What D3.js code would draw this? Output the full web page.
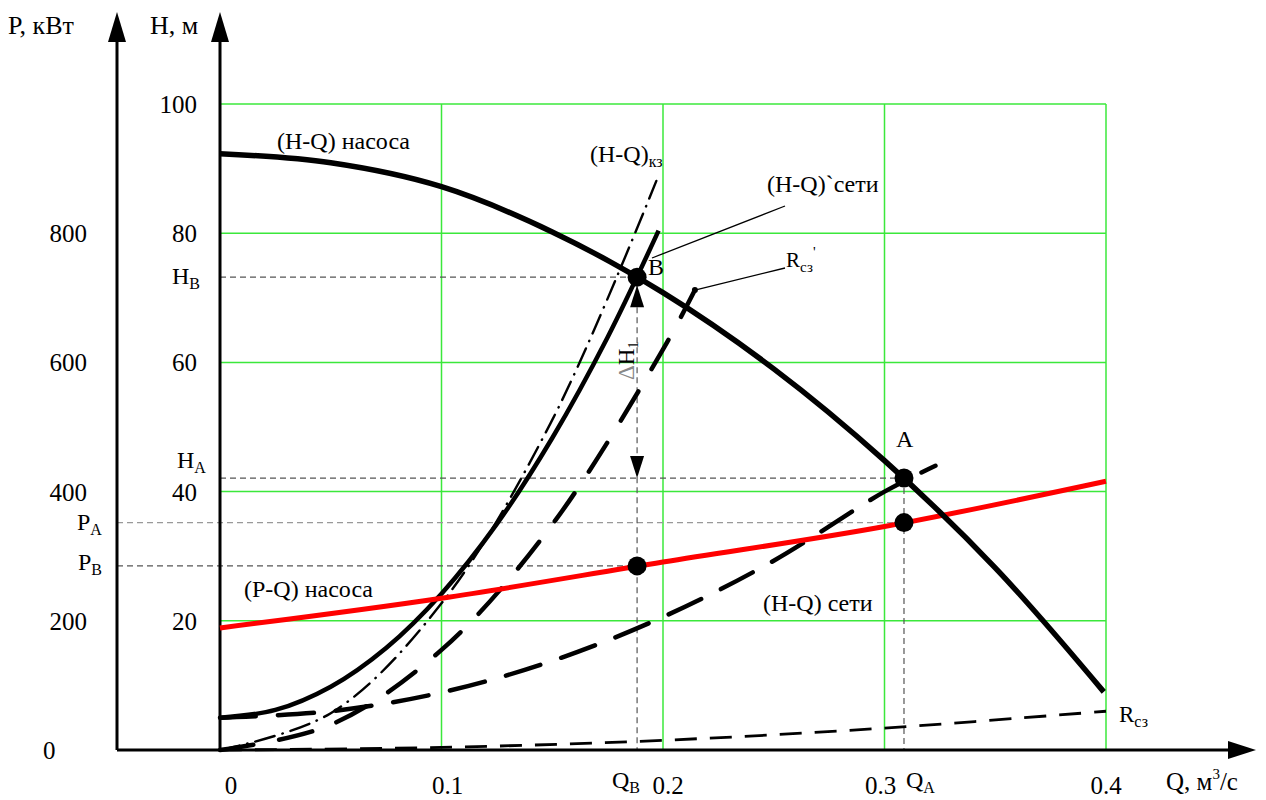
<!DOCTYPE html>
<html>
<head>
<meta charset="utf-8">
<script src="https://cdn.jsdelivr.net/npm/d3@7/dist/d3.min.js"></script>
<style>
  html, body { margin: 0; padding: 0; background: #fff; }
  svg { display: block; }
  text { font-family: "Liberation Serif", "Times New Roman", serif; fill: #000; }
</style>
</head>
<body>
<svg id="chart" width="1266" height="800"></svg>
<script>
// ---- data ----
// pump head curve (H-Q) насоса
const pumpQ = [0, 0.05, 0.1, 0.15, 0.2, 0.25, 0.3, 0.35, 0.399];
const pumpH = [92.3, 90.9, 87.2, 80.2, 70.8, 59.0, 44.8, 28.2, 9.0];
// pump power curve (P-Q) насоса, кВт
const powerQ = [0, 0.1, 0.2, 0.3, 0.4];
const powerP = [189, 235, 291, 346, 416];
// network curve (H-Q) сети
const netQ = [0, 0.05, 0.1, 0.15, 0.2, 0.25, 0.3, 0.323];
const netH = [5.0, 6.0, 8.9, 13.8, 20.6, 29.3, 40.0, 44.0];
// throttled network curve (H-Q)`сети
const net2Q = [0, 0.025, 0.05, 0.075, 0.1, 0.125, 0.15, 0.175, 0.198];
const net2H = [5.0, 6.2, 9.8, 15.8, 24.2, 35.0, 48.3, 63.9, 80.4];
// (H-Q)кз
const kzQ = [0, 0.05, 0.1, 0.15, 0.197];
const kzH = [0, 5.7, 22.7, 51.1, 88.1];
// Rсз'
const rcz2Q = [0, 0.05, 0.1, 0.15, 0.2, 0.2144];
const rcz2H = [0, 3.9, 15.5, 34.9, 62.0, 71.2];
// Rсз
const rczQ = [0, 0.1, 0.2, 0.3, 0.4];
const rczH = [0, 0.4, 1.5, 3.4, 6.0];
// operating points
const pointA = { Q: 0.3088, H: 42.1, P: 352 };
const pointB = { Q: 0.1883, H: 73.2, P: 285 };
// tick labels
const qTicks = [0.1, 0.2, 0.3, 0.4];
const qTickLabels = ["0.1", "0.2", "0.3", "0.4"];
const hTicks = [20, 40, 60, 80, 100];
const pTicks = [200, 400, 600, 800];

// ---- layout ----
const svg = d3.select("#chart");
const x = d3.scaleLinear().domain([0, 0.4]).range([220, 1106]);
const yH = d3.scaleLinear().domain([0, 100]).range([750, 104]);
const yP = d3.scaleLinear().domain([0, 1000]).range([750, 104]);
const pAxisX = 117;
const font = 24;
const tickFont = 25;

const zip = (qs, vs) => qs.map((q, i) => [q, vs[i]]);
const lineH = d3.line().x(d => x(d[0])).y(d => yH(d[1])).curve(d3.curveCatmullRom);
const lineP = d3.line().x(d => x(d[0])).y(d => yP(d[1])).curve(d3.curveCatmullRom);

// ---- grid ----
const grid = svg.append("g").attr("stroke", "#3be83b").attr("stroke-width", 1.5);
grid.selectAll("line.v").data(qTicks).join("line")
  .attr("x1", d => x(d)).attr("x2", d => x(d))
  .attr("y1", yH(0)).attr("y2", yH(100));
grid.selectAll("line.h").data(hTicks).join("line")
  .attr("x1", x(0)).attr("x2", x(0.4))
  .attr("y1", d => yH(d)).attr("y2", d => yH(d));

// ---- helper dashed lines ----
const helper = svg.append("g").attr("fill", "none").attr("stroke-width", 1.2).attr("stroke-dasharray", "6,4");
helper.append("line").attr("stroke", "#555")
  .attr("x1", x(0)).attr("x2", x(pointB.Q)).attr("y1", yH(pointB.H)).attr("y2", yH(pointB.H));
helper.append("line").attr("stroke", "#555")
  .attr("x1", x(0)).attr("x2", x(pointA.Q)).attr("y1", yH(pointA.H)).attr("y2", yH(pointA.H));
helper.append("line").attr("stroke", "#999")
  .attr("x1", pAxisX).attr("x2", x(pointA.Q)).attr("y1", yP(pointA.P)).attr("y2", yP(pointA.P));
helper.append("line").attr("stroke", "#555")
  .attr("x1", pAxisX).attr("x2", x(pointB.Q)).attr("y1", yP(pointB.P)).attr("y2", yP(pointB.P));
helper.append("line").attr("stroke", "#555")
  .attr("x1", x(pointA.Q)).attr("x2", x(pointA.Q)).attr("y1", yH(pointA.H)).attr("y2", yH(0));
helper.append("line").attr("stroke", "#555")
  .attr("x1", x(pointB.Q)).attr("x2", x(pointB.Q)).attr("y1", yH(pointB.H) + 10).attr("y2", yH(0));

// ΔH arrow heads
const bx = x(pointB.Q);
svg.append("path").attr("fill", "#000")
  .attr("d", `M${bx},${yH(pointB.H) + 8} L${bx - 7},${yH(pointB.H) + 30} L${bx + 7},${yH(pointB.H) + 30} Z`);
svg.append("path").attr("fill", "#000")
  .attr("d", `M${bx},${yH(pointA.H)} L${bx - 7},${yH(pointA.H) - 22} L${bx + 7},${yH(pointA.H) - 22} Z`);

// ---- axes ----
const axes = svg.append("g").attr("stroke", "#000").attr("stroke-width", 3);
axes.append("line").attr("x1", pAxisX).attr("x2", pAxisX).attr("y1", yP(0)).attr("y2", 40);
axes.append("line").attr("x1", x(0)).attr("x2", x(0)).attr("y1", yH(0)).attr("y2", 40);
axes.append("line").attr("x1", pAxisX).attr("x2", 1232).attr("y1", yH(0)).attr("y2", yH(0));
const heads = svg.append("g").attr("fill", "#000");
heads.append("path").attr("d", `M${pAxisX},12 L${pAxisX - 9},42 L${pAxisX + 9},42 Z`);
heads.append("path").attr("d", `M${x(0)},12 L${x(0) - 9},42 L${x(0) + 9},42 Z`);
heads.append("path").attr("d", `M1256,${yH(0)} L1228,${yH(0) - 9} L1228,${yH(0) + 9} Z`);

// ---- curves ----
const curves = svg.append("g").attr("fill", "none").attr("stroke-linecap", "round");
curves.append("path").datum(zip(rczQ, rczH)).attr("d", lineH)
  .attr("stroke", "#000").attr("stroke-width", 2.8).attr("stroke-dasharray", "22,13").attr("stroke-linecap", "butt");
curves.append("path").datum(zip(kzQ, kzH)).attr("d", lineH)
  .attr("stroke", "#000").attr("stroke-width", 2.4).attr("stroke-dasharray", "20,8,0.5,8");
curves.append("path").datum(zip(rcz2Q, rcz2H)).attr("d", lineH)
  .attr("stroke", "#000").attr("stroke-width", 4.5).attr("stroke-dasharray", "34,26");
curves.append("path").datum(zip(netQ, netH)).attr("d", lineH)
  .attr("stroke", "#000").attr("stroke-width", 4.5).attr("stroke-dasharray", "36,22");
curves.append("path").datum(zip(net2Q, net2H)).attr("d", lineH)
  .attr("stroke", "#000").attr("stroke-width", 4.5).attr("stroke-linecap", "butt");
curves.append("path").datum(zip(powerQ, powerP)).attr("d", lineP)
  .attr("stroke", "#ff0000").attr("stroke-width", 5).attr("stroke-linecap", "butt");
curves.append("path").datum(zip(pumpQ, pumpH)).attr("d", lineH)
  .attr("stroke", "#000").attr("stroke-width", 5.5).attr("stroke-linecap", "butt");

// ---- leader lines ----
const lead = svg.append("g").attr("stroke", "#000").attr("stroke-width", 1.3);
lead.append("line").attr("x1", 785).attr("y1", 206).attr("x2", 652).attr("y2", 258);
lead.append("line").attr("x1", 785).attr("y1", 268)
  .attr("x2", x(rcz2Q[rcz2Q.length - 1])).attr("y2", yH(rcz2H[rcz2H.length - 1]));
svg.append("circle").attr("r", 3)
  .attr("cx", x(rcz2Q[rcz2Q.length - 1])).attr("cy", yH(rcz2H[rcz2H.length - 1]));

// ---- operating point markers ----
const marks = [
  [pointB.Q, yH(pointB.H)], [pointA.Q, yH(pointA.H)],
  [pointA.Q, yP(pointA.P)], [pointB.Q, yP(pointB.P)]
];
svg.selectAll("circle.pt").data(marks).join("circle")
  .attr("class", "pt").attr("r", 9.5)
  .attr("cx", d => x(d[0])).attr("cy", d => d[1]).attr("fill", "#000");

// ---- tick labels ----
const tl = svg.append("g").attr("font-size", tickFont);
tl.selectAll("text.h").data(hTicks).join("text")
  .attr("x", 197).attr("y", d => yH(d) + 9).attr("text-anchor", "end").text(d => d);
tl.selectAll("text.p").data(pTicks).join("text")
  .attr("x", 87).attr("y", d => yP(d) + 9).attr("text-anchor", "end").text(d => d);
tl.append("text").attr("x", 43).attr("y", yP(0) + 9).text("0");
tl.selectAll("text.q").data(qTicks).join("text")
  .attr("x", (d, i) => x(d) + [6, 5, -4, 0][i]).attr("y", 794).attr("text-anchor", "middle")
  .text((d, i) => qTickLabels[i]);
tl.append("text").attr("x", x(0) + 11).attr("y", 794).attr("text-anchor", "middle").text("0");

// subscripted label helper
function sub(g, xPos, yPos, main, s, size, subSize, extra) {
  const t = g.append("text").attr("x", xPos).attr("y", yPos).attr("font-size", size);
  t.append("tspan").text(main);
  t.append("tspan").attr("font-size", subSize).attr("dy", size * 0.22).text(s);
  if (extra) t.append("tspan").attr("font-size", subSize).attr("dy", -size * 0.7).text(extra);
  return t;
}

const lbl = svg.append("g");
sub(lbl, 172, 284, "H", "B", font, 16);
sub(lbl, 177, 468, "H", "A", font, 16);
sub(lbl, 77, 530, "P", "A", font, 16);
sub(lbl, 78, 570, "P", "B", font, 16);
sub(lbl, 612, 788, "Q", "B", font, 16);
sub(lbl, 906, 788, "Q", "A", font, 16);

// axis titles
lbl.append("text").attr("x", 8).attr("y", 34).attr("font-size", 26).text("P, кВт");
lbl.append("text").attr("x", 150).attr("y", 34).attr("font-size", 26).text("H, м");
const qt = lbl.append("text").attr("x", 1166).attr("y", 790).attr("font-size", 25);
qt.append("tspan").text("Q, м");
qt.append("tspan").attr("font-size", 15).attr("dy", -11).text("3");
qt.append("tspan").attr("dy", 11).text("/с");

// curve names
lbl.append("text").attr("x", 277).attr("y", 149).attr("font-size", font).text("(H-Q) насоса");
lbl.append("text").attr("x", 244).attr("y", 597).attr("font-size", font).text("(P-Q) насоса");
lbl.append("text").attr("x", 763).attr("y", 611).attr("font-size", font).text("(H-Q) сети");
lbl.append("text").attr("x", 767).attr("y", 192).attr("font-size", font).text("(H-Q)`сети");
sub(lbl, 590, 162, "(H-Q)", "кз", font, 16);
sub(lbl, 786, 267, "R", "сз", 21, 15, "'");
sub(lbl, 1119, 722, "R", "сз", 23, 16);

// point names
lbl.append("text").attr("x", 648).attr("y", 275).attr("font-size", font).text("B");
lbl.append("text").attr("x", 896).attr("y", 447).attr("font-size", font).text("A");

// ΔH₁ label, rotated
const dh = lbl.append("text").attr("transform", "translate(634,380) rotate(-90)").attr("font-size", 23);
dh.append("tspan").attr("fill", "#888").text("Δ");
dh.append("tspan").text("H");
dh.append("tspan").attr("font-size", 14).attr("dy", 4).text("1");
</script>
</body>
</html>
